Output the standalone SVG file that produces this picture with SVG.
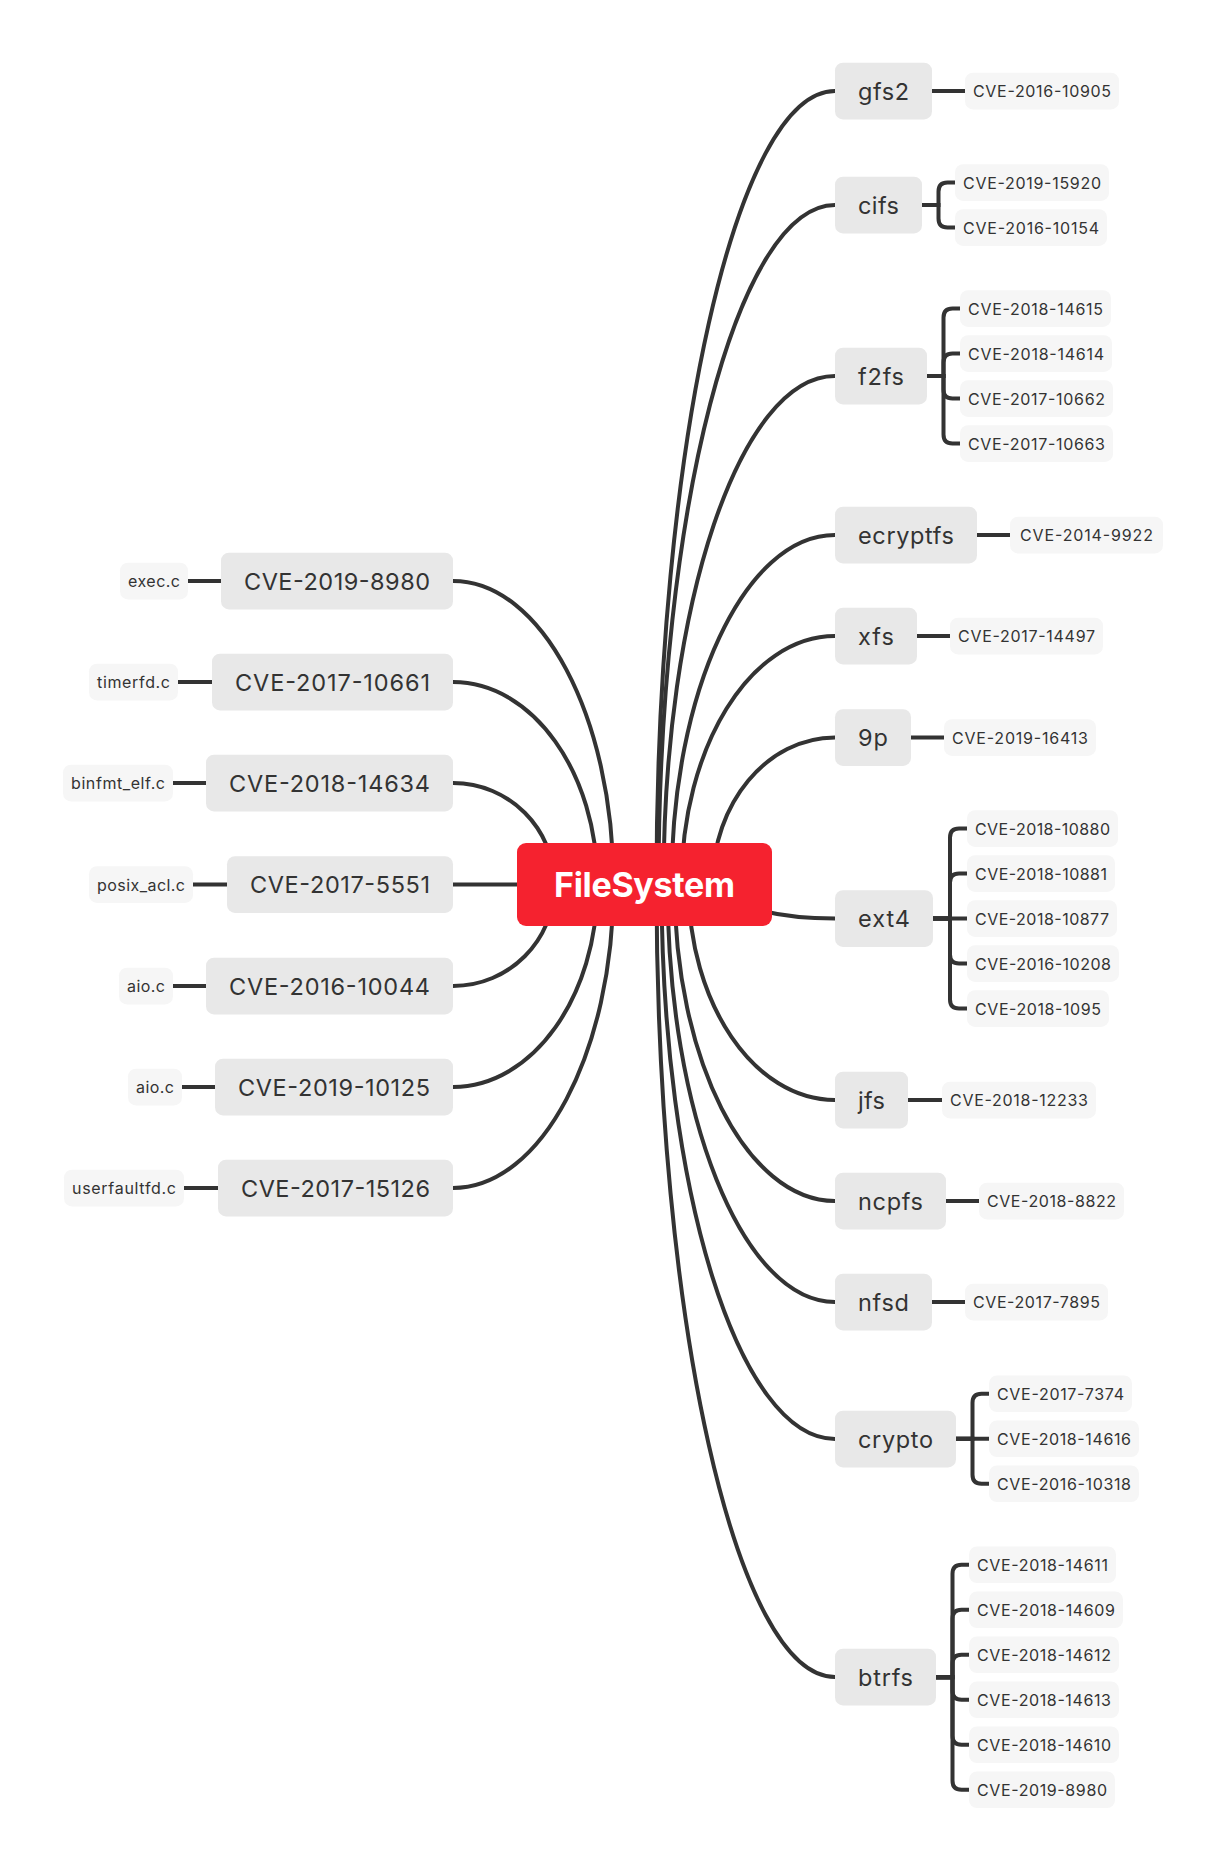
<svg xmlns="http://www.w3.org/2000/svg" width="1226" height="1871" viewBox="0 0 1226 1871">
<style>
.c{fill:none;stroke:#333333;stroke-width:4;stroke-linecap:butt}
.m rect{fill:#E8E8E8}
.l rect{fill:#F6F6F6}
.m text{font-family:Inter,"Liberation Sans",sans-serif;font-size:23.5px;fill:#333333;text-anchor:middle}
.l text{font-family:Inter,"Liberation Sans",sans-serif;font-size:16px;fill:#333333;text-anchor:middle}
.r text{font-family:Inter,"Liberation Sans",sans-serif;font-size:34px;font-weight:bold;fill:#FFFFFF;text-anchor:middle}
</style>
<rect width="1226" height="1871" fill="#FFFFFF"/>
<g id="connectors">
<path class="c" d="M656.5,884.5 C656.5,446.3 736.4,91 835,91"/>
<path class="c" d="M658.5,884.5 C658.5,509.2 737.5,205 835,205"/>
<path class="c" d="M663.5,884.5 C663.5,603.7 740.3,376 835,376"/>
<path class="c" d="M671.5,884.5 C671.5,691.5 744.7,535 835,535"/>
<path class="c" d="M681.5,884.5 C681.5,747.3 750.2,636 835,636"/>
<path class="c" d="M712.5,884.5 C712.5,803.3 767.3,737.5 835,737.5"/>
<path class="c" d="M719.5,884.5 C719.5,903.3 771.2,918.5 835,918.5"/>
<path class="c" d="M688.5,884.5 C688.5,1003.5 754.1,1100 835,1100"/>
<path class="c" d="M674.5,884.5 C674.5,1059.3 746.4,1201 835,1201"/>
<path class="c" d="M667.5,884.5 C667.5,1115.1 742.5,1302 835,1302"/>
<path class="c" d="M661.5,884.5 C661.5,1190.8 739.2,1439 835,1439"/>
<path class="c" d="M656.5,884.5 C656.5,1322.2 736.4,1677 835,1677"/>
<path class="c" d="M613.5,884.5 C613.5,716.9 541.6,581 453,581"/>
<path class="c" d="M597.5,884.5 C597.5,772.7 532.8,682 453,682"/>
<path class="c" d="M554.5,884.5 C554.5,828.4 509.1,783 453,783"/>
<path class="c" d="M644.5,884.5 H453"/>
<path class="c" d="M554.5,884.5 C554.5,940.6 509.1,986 453,986"/>
<path class="c" d="M597.5,884.5 C597.5,996.3 532.8,1087 453,1087"/>
<path class="c" d="M613.5,884.5 C613.5,1052.1 541.6,1188 453,1188"/>
<path class="c" d="M932,91 H965"/>
<path class="c" d="M922,205 H938.5 V191.5 Q938.5,182.5 947.5,182.5 H955"/>
<path class="c" d="M922,205 H938.5 V218.5 Q938.5,227.5 947.5,227.5 H955"/>
<path class="c" d="M927,376 H943.5 V317.5 Q943.5,308.5 952.5,308.5 H960"/>
<path class="c" d="M927,376 H943.5 V362.5 Q943.5,353.5 952.5,353.5 H960"/>
<path class="c" d="M927,376 H943.5 V389.5 Q943.5,398.5 952.5,398.5 H960"/>
<path class="c" d="M927,376 H943.5 V434.5 Q943.5,443.5 952.5,443.5 H960"/>
<path class="c" d="M977,535 H1010"/>
<path class="c" d="M917,636 H950"/>
<path class="c" d="M911,737.5 H944"/>
<path class="c" d="M933,918.5 H950 V837.5 Q950,828.5 959,828.5 H967"/>
<path class="c" d="M933,918.5 H950 V882.5 Q950,873.5 959,873.5 H967"/>
<path class="c" d="M933,918.5 H967"/>
<path class="c" d="M933,918.5 H950 V954.5 Q950,963.5 959,963.5 H967"/>
<path class="c" d="M933,918.5 H950 V999.5 Q950,1008.5 959,1008.5 H967"/>
<path class="c" d="M908,1100 H942"/>
<path class="c" d="M946,1201 H979"/>
<path class="c" d="M932,1302 H965"/>
<path class="c" d="M956,1438.7 H972.5 V1402.7 Q972.5,1393.7 981.5,1393.7 H989"/>
<path class="c" d="M956,1438.7 H989"/>
<path class="c" d="M956,1438.7 H972.5 V1474.7 Q972.5,1483.7 981.5,1483.7 H989"/>
<path class="c" d="M936,1677.2 H952.5 V1573.7 Q952.5,1564.7 961.5,1564.7 H969"/>
<path class="c" d="M936,1677.2 H952.5 V1618.7 Q952.5,1609.7 961.5,1609.7 H969"/>
<path class="c" d="M936,1677.2 H952.5 V1663.7 Q952.5,1654.7 961.5,1654.7 H969"/>
<path class="c" d="M936,1677.2 H952.5 V1690.7 Q952.5,1699.7 961.5,1699.7 H969"/>
<path class="c" d="M936,1677.2 H952.5 V1735.7 Q952.5,1744.7 961.5,1744.7 H969"/>
<path class="c" d="M936,1677.2 H952.5 V1780.7 Q952.5,1789.7 961.5,1789.7 H969"/>
<path class="c" d="M188,581 H221"/>
<path class="c" d="M178,682 H212"/>
<path class="c" d="M173,783 H206"/>
<path class="c" d="M193,884.5 H227"/>
<path class="c" d="M173,986 H206"/>
<path class="c" d="M182,1087 H215"/>
<path class="c" d="M184,1188 H218"/>
</g>
<g id="root" class="r"><rect x="517" y="843" width="255" height="83" rx="9" fill="#F5222F"/><text x="644.5" y="897" textLength="181" lengthAdjust="spacing">FileSystem</text></g>

<g id="gfs2" class="m"><rect x="835" y="62.7" width="97" height="56.7" rx="8"/><text x="883.5" y="99.5" textLength="51" lengthAdjust="spacing">gfs2</text></g>
<g id="cifs" class="m"><rect x="835" y="176.7" width="87" height="56.7" rx="8"/><text x="878.5" y="213.5" textLength="41" lengthAdjust="spacing">cifs</text></g>
<g id="f2fs" class="m"><rect x="835" y="347.7" width="92" height="56.7" rx="8"/><text x="881" y="384.5" textLength="46" lengthAdjust="spacing">f2fs</text></g>
<g id="ecryptfs" class="m"><rect x="835" y="506.7" width="142" height="56.7" rx="8"/><text x="906" y="543.5" textLength="96" lengthAdjust="spacing">ecryptfs</text></g>
<g id="xfs" class="m"><rect x="835" y="607.7" width="82" height="56.7" rx="8"/><text x="876" y="644.5" textLength="36" lengthAdjust="spacing">xfs</text></g>
<g id="n9p" class="m"><rect x="835" y="709.2" width="76" height="56.7" rx="8"/><text x="873" y="746" textLength="30" lengthAdjust="spacing">9p</text></g>
<g id="ext4" class="m"><rect x="835" y="890.2" width="98" height="56.7" rx="8"/><text x="884" y="927" textLength="52" lengthAdjust="spacing">ext4</text></g>
<g id="jfs" class="m"><rect x="835" y="1071.7" width="73" height="56.7" rx="8"/><text x="871.5" y="1108.5" textLength="27" lengthAdjust="spacing">jfs</text></g>
<g id="ncpfs" class="m"><rect x="835" y="1172.7" width="111" height="56.7" rx="8"/><text x="890.5" y="1209.5" textLength="65" lengthAdjust="spacing">ncpfs</text></g>
<g id="nfsd" class="m"><rect x="835" y="1273.7" width="97" height="56.7" rx="8"/><text x="883.5" y="1310.5" textLength="51" lengthAdjust="spacing">nfsd</text></g>
<g id="crypto" class="m"><rect x="835" y="1410.7" width="121" height="56.7" rx="8"/><text x="895.5" y="1447.5" textLength="75" lengthAdjust="spacing">crypto</text></g>
<g id="btrfs" class="m"><rect x="835" y="1648.7" width="101" height="56.7" rx="8"/><text x="885.5" y="1685.5" textLength="55" lengthAdjust="spacing">btrfs</text></g>

<g id="l-2019-8980" class="m"><rect x="221" y="552.7" width="232" height="56.7" rx="8"/><text x="337" y="589.5" textLength="186" lengthAdjust="spacing">CVE-2019-8980</text></g>
<g id="l-2017-10661" class="m"><rect x="212" y="653.7" width="241" height="56.7" rx="8"/><text x="332.5" y="690.5" textLength="195" lengthAdjust="spacing">CVE-2017-10661</text></g>
<g id="l-2018-14634" class="m"><rect x="206" y="754.7" width="247" height="56.7" rx="8"/><text x="329.5" y="791.5" textLength="201" lengthAdjust="spacing">CVE-2018-14634</text></g>
<g id="l-2017-5551" class="m"><rect x="227" y="856.2" width="226" height="56.7" rx="8"/><text x="340" y="893" textLength="180" lengthAdjust="spacing">CVE-2017-5551</text></g>
<g id="l-2016-10044" class="m"><rect x="206" y="957.7" width="247" height="56.7" rx="8"/><text x="329.5" y="994.5" textLength="201" lengthAdjust="spacing">CVE-2016-10044</text></g>
<g id="l-2019-10125" class="m"><rect x="215" y="1058.7" width="238" height="56.7" rx="8"/><text x="334" y="1095.5" textLength="192" lengthAdjust="spacing">CVE-2019-10125</text></g>
<g id="l-2017-15126" class="m"><rect x="218" y="1159.7" width="235" height="56.7" rx="8"/><text x="335.5" y="1196.5" textLength="189" lengthAdjust="spacing">CVE-2017-15126</text></g>

<g id="f-exec" class="l"><rect x="120" y="562.7" width="68" height="36.7" rx="8"/><text x="154" y="587" textLength="52" lengthAdjust="spacing">exec.c</text></g>
<g id="f-timerfd" class="l"><rect x="89" y="663.7" width="89" height="36.7" rx="8"/><text x="133.5" y="688" textLength="73" lengthAdjust="spacing">timerfd.c</text></g>
<g id="f-binfmt" class="l"><rect x="63" y="764.7" width="110" height="36.7" rx="8"/><text x="118" y="789" textLength="94" lengthAdjust="spacing">binfmt_elf.c</text></g>
<g id="f-posix" class="l"><rect x="89" y="866.2" width="104" height="36.7" rx="8"/><text x="141" y="890.5" textLength="88" lengthAdjust="spacing">posix_acl.c</text></g>
<g id="f-aio1" class="l"><rect x="119" y="967.7" width="54" height="36.7" rx="8"/><text x="146" y="992" textLength="38" lengthAdjust="spacing">aio.c</text></g>
<g id="f-aio2" class="l"><rect x="128" y="1068.7" width="54" height="36.7" rx="8"/><text x="155" y="1093" textLength="38" lengthAdjust="spacing">aio.c</text></g>
<g id="f-userfault" class="l"><rect x="64" y="1169.7" width="120" height="36.7" rx="8"/><text x="124" y="1194" textLength="104" lengthAdjust="spacing">userfaultfd.c</text></g>

<g id="r-2016-10905" class="l"><rect x="965" y="72.7" width="154" height="36.7" rx="8"/><text x="1042" y="97" textLength="138" lengthAdjust="spacing">CVE-2016-10905</text></g>
<g id="r-2019-15920" class="l"><rect x="955" y="164.2" width="154" height="36.7" rx="8"/><text x="1032" y="188.5" textLength="138" lengthAdjust="spacing">CVE-2019-15920</text></g>
<g id="r-2016-10154" class="l"><rect x="955" y="209.2" width="152" height="36.7" rx="8"/><text x="1031" y="233.5" textLength="136" lengthAdjust="spacing">CVE-2016-10154</text></g>
<g id="r-2018-14615" class="l"><rect x="960" y="290.2" width="151" height="36.7" rx="8"/><text x="1035.5" y="314.5" textLength="135" lengthAdjust="spacing">CVE-2018-14615</text></g>
<g id="r-2018-14614" class="l"><rect x="960" y="335.2" width="152" height="36.7" rx="8"/><text x="1036" y="359.5" textLength="136" lengthAdjust="spacing">CVE-2018-14614</text></g>
<g id="r-2017-10662" class="l"><rect x="960" y="380.2" width="153" height="36.7" rx="8"/><text x="1036.5" y="404.5" textLength="137" lengthAdjust="spacing">CVE-2017-10662</text></g>
<g id="r-2017-10663" class="l"><rect x="960" y="425.2" width="153" height="36.7" rx="8"/><text x="1036.5" y="449.5" textLength="137" lengthAdjust="spacing">CVE-2017-10663</text></g>
<g id="r-2014-9922" class="l"><rect x="1010" y="516.7" width="153" height="36.7" rx="8"/><text x="1086.5" y="541" textLength="133" lengthAdjust="spacing">CVE-2014-9922</text></g>
<g id="r-2017-14497" class="l"><rect x="950" y="617.7" width="153" height="36.7" rx="8"/><text x="1026.5" y="642" textLength="137" lengthAdjust="spacing">CVE-2017-14497</text></g>
<g id="r-2019-16413" class="l"><rect x="944" y="719.2" width="152" height="36.7" rx="8"/><text x="1020" y="743.5" textLength="136" lengthAdjust="spacing">CVE-2019-16413</text></g>
<g id="r-2018-10880" class="l"><rect x="967" y="810.2" width="151" height="36.7" rx="8"/><text x="1042.5" y="834.5" textLength="135" lengthAdjust="spacing">CVE-2018-10880</text></g>
<g id="r-2018-10881" class="l"><rect x="967" y="855.2" width="148" height="36.7" rx="8"/><text x="1041" y="879.5" textLength="132" lengthAdjust="spacing">CVE-2018-10881</text></g>
<g id="r-2018-10877" class="l"><rect x="967" y="900.2" width="150" height="36.7" rx="8"/><text x="1042" y="924.5" textLength="134" lengthAdjust="spacing">CVE-2018-10877</text></g>
<g id="r-2016-10208" class="l"><rect x="967" y="945.2" width="152" height="36.7" rx="8"/><text x="1043" y="969.5" textLength="136" lengthAdjust="spacing">CVE-2016-10208</text></g>
<g id="r-2018-1095" class="l"><rect x="967" y="990.2" width="142" height="36.7" rx="8"/><text x="1038" y="1014.5" textLength="126" lengthAdjust="spacing">CVE-2018-1095</text></g>
<g id="r-2018-12233" class="l"><rect x="942" y="1081.7" width="154" height="36.7" rx="8"/><text x="1019" y="1106" textLength="138" lengthAdjust="spacing">CVE-2018-12233</text></g>
<g id="r-2018-8822" class="l"><rect x="979" y="1182.7" width="145" height="36.7" rx="8"/><text x="1051.5" y="1207" textLength="129" lengthAdjust="spacing">CVE-2018-8822</text></g>
<g id="r-2017-7895" class="l"><rect x="965" y="1283.7" width="143" height="36.7" rx="8"/><text x="1036.5" y="1308" textLength="127" lengthAdjust="spacing">CVE-2017-7895</text></g>
<g id="r-2017-7374" class="l"><rect x="989" y="1375.4" width="143" height="36.7" rx="8"/><text x="1060.5" y="1399.7" textLength="127" lengthAdjust="spacing">CVE-2017-7374</text></g>
<g id="r-2018-14616" class="l"><rect x="989" y="1420.4" width="150" height="36.7" rx="8"/><text x="1064" y="1444.7" textLength="134" lengthAdjust="spacing">CVE-2018-14616</text></g>
<g id="r-2016-10318" class="l"><rect x="989" y="1465.4" width="150" height="36.7" rx="8"/><text x="1064" y="1489.7" textLength="134" lengthAdjust="spacing">CVE-2016-10318</text></g>
<g id="r-2018-14611" class="l"><rect x="969" y="1546.4" width="147" height="36.7" rx="8"/><text x="1042.5" y="1570.7" textLength="131" lengthAdjust="spacing">CVE-2018-14611</text></g>
<g id="r-2018-14609" class="l"><rect x="969" y="1591.4" width="154" height="36.7" rx="8"/><text x="1046" y="1615.7" textLength="138" lengthAdjust="spacing">CVE-2018-14609</text></g>
<g id="r-2018-14612" class="l"><rect x="969" y="1636.4" width="150" height="36.7" rx="8"/><text x="1044" y="1660.7" textLength="134" lengthAdjust="spacing">CVE-2018-14612</text></g>
<g id="r-2018-14613" class="l"><rect x="969" y="1681.4" width="150" height="36.7" rx="8"/><text x="1044" y="1705.7" textLength="134" lengthAdjust="spacing">CVE-2018-14613</text></g>
<g id="r-2018-14610" class="l"><rect x="969" y="1726.4" width="150" height="36.7" rx="8"/><text x="1044" y="1750.7" textLength="134" lengthAdjust="spacing">CVE-2018-14610</text></g>
<g id="r-2019-8980" class="l"><rect x="969" y="1771.4" width="146" height="36.7" rx="8"/><text x="1042" y="1795.7" textLength="130" lengthAdjust="spacing">CVE-2019-8980</text></g>
</svg>
